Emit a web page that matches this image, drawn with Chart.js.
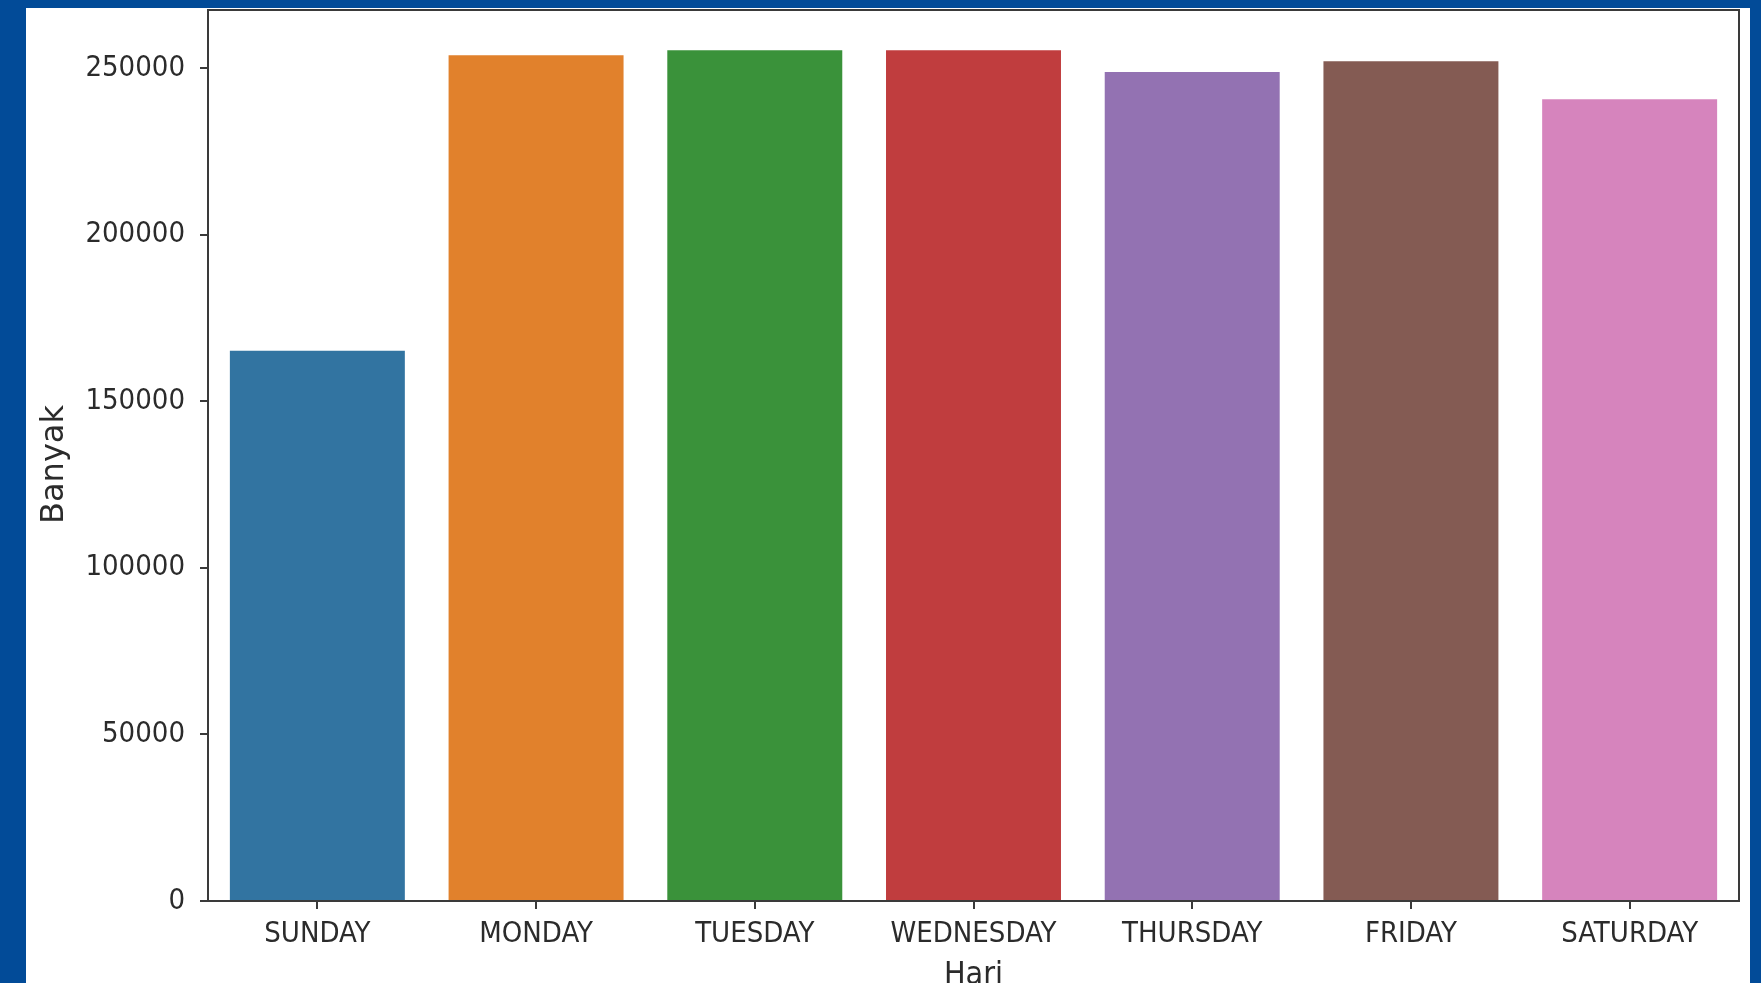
<!DOCTYPE html>
<html>
<head>
<meta charset="utf-8">
<script src="https://cdn.jsdelivr.net/npm/chart.js@4/dist/chart.umd.min.js"></script>
<style>
  html, body { margin: 0; padding: 0; width: 1761px; height: 983px; overflow: hidden; background: #024b98; }
  #panel { position: absolute; left: 26px; top: 8px; width: 1724px; height: 1000px; background: #ffffff; }
  #c { position: absolute; left: 0; top: 0; }
</style>
</head>
<body>
<div id="panel"></div>
<canvas id="c" width="1761" height="1010"></canvas>
<script>
const categories = ["SUNDAY", "MONDAY", "TUESDAY", "WEDNESDAY", "THURSDAY", "FRIDAY", "SATURDAY"];
const values = [165200, 253900, 255400, 255400, 248900, 252100, 240700];
const barColors = ["#3274a1", "#e1812c", "#3a923a", "#c03d3e", "#9372b2", "#845b53", "#d684bd"];
const yTicks = [0, 50000, 100000, 150000, 200000, 250000];
const xTitle = "Hari";
const yTitle = "Banyak";

const frameColor = "#3a3a3a";
const textColor = "#2b2b2b";

const framePlugin = {
  id: 'frame',
  afterDraw(chart) {
    const {ctx, chartArea: a} = chart;
    ctx.save();
    ctx.strokeStyle = frameColor;
    ctx.lineWidth = 2;
    ctx.beginPath();
    ctx.moveTo(a.left, a.top);
    ctx.lineTo(a.right, a.top);
    ctx.lineTo(a.right, a.bottom);
    ctx.stroke();
    // y-axis title, centred slightly below the axis middle as in the reference
    ctx.fillStyle = textColor;
    ctx.font = "32px 'DejaVu Sans'";
    ctx.textAlign = 'center';
    ctx.textBaseline = 'middle';
    ctx.translate(55, (a.top + a.bottom) / 2 + 9);
    ctx.rotate(-Math.PI / 2);
    ctx.fillText(yTitle, 0, 0);
    ctx.restore();
  }
};

new Chart(document.getElementById('c'), {
  type: 'bar',
  data: {
    labels: categories,
    datasets: [{
      data: values,
      backgroundColor: barColors,
      borderWidth: 0,
      barPercentage: 0.8,
      categoryPercentage: 1.0
    }]
  },
  options: {
    responsive: false,
    animation: false,
    devicePixelRatio: 1,
    layout: { padding: { top: 10, right: 22, left: 0, bottom: 0 } },
    plugins: { legend: { display: false }, tooltip: { enabled: false } },
    scales: {
      x: {
        offset: true,
        grid: { display: true, offset: false, drawOnChartArea: false, drawTicks: true, tickLength: 8, color: frameColor, lineWidth: 2 },
        border: { display: true, color: frameColor, width: 2 },
        ticks: { color: textColor, padding: 8, maxRotation: 0, autoSkip: false,
                 font: { family: "'DejaVu Sans Condensed', 'DejaVu Sans'", size: 29 } },
        title: { display: true, text: xTitle, color: textColor, padding: { top: 0, bottom: 15 },
                 font: { family: "'DejaVu Sans Condensed', 'DejaVu Sans'", size: 32 } },
        afterFit(scale) { scale.height = 109; scale.paddingLeft = 0; scale.paddingRight = 0; }
      },
      y: {
        min: 0,
        max: 267500,
        grid: { display: true, drawOnChartArea: false, drawTicks: true, tickLength: 8, color: frameColor, lineWidth: 2 },
        border: { display: true, color: frameColor, width: 2 },
        ticks: { color: textColor, padding: 15,
                 font: { family: "'DejaVu Sans Condensed', 'DejaVu Sans'", size: 29 },
                 callback: (v) => String(v) },
        afterBuildTicks(scale) { scale.ticks = yTicks.map(v => ({ value: v })); },
        title: { display: false, text: yTitle },
        afterFit(scale) { scale.width = 208; scale.paddingTop = 0; scale.paddingBottom = 0; }
      }
    }
  },
  plugins: [framePlugin]
});
</script>
</body>
</html>
